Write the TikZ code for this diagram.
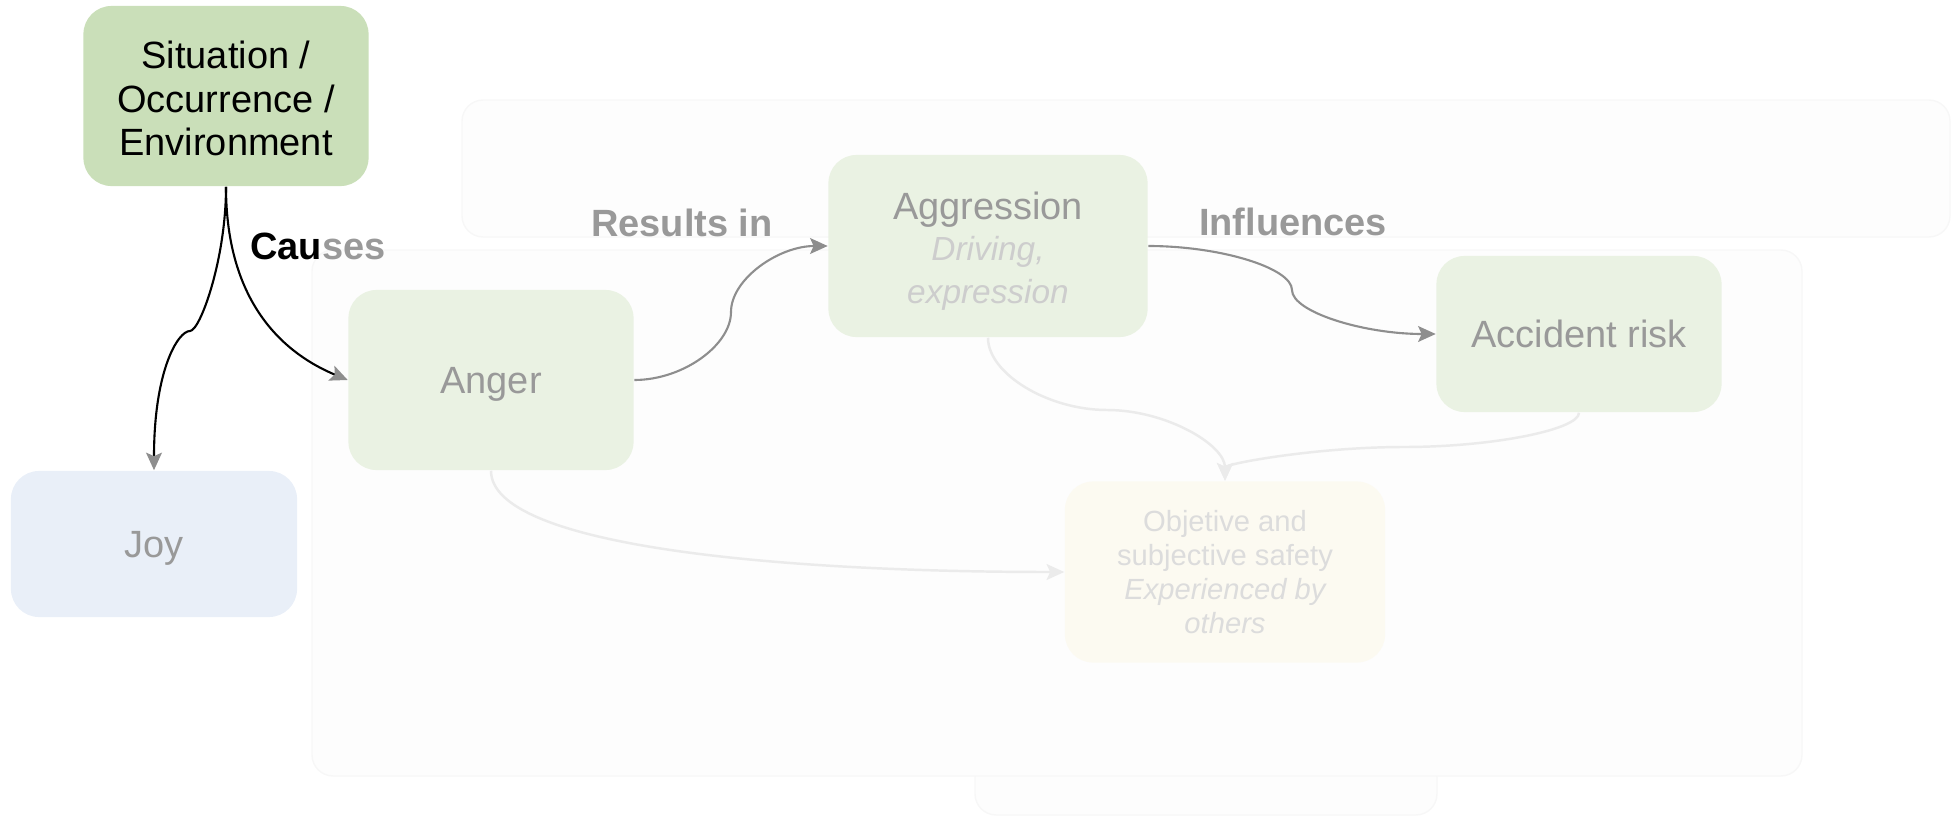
\documentclass[tikz,border=0pt]{standalone}
\usepackage{fontspec}
\setmainfont{Liberation Sans}
\usetikzlibrary{shapes,arrows,arrows.meta}

\definecolor{sitgreen}{HTML}{CADFB9}
\definecolor{palegreen}{HTML}{EAF2E3}
\definecolor{paleblue}{HTML}{E9EFF8}
\definecolor{paleyellow}{HTML}{FCFAF1}
\definecolor{textgray}{HTML}{999999}
\definecolor{softgray}{HTML}{CDCDCD}
\definecolor{fadegray}{HTML}{DCDCDC}
\definecolor{linegray}{HTML}{8E8E8E}
\definecolor{fadeline}{HTML}{EBEBEB}
\definecolor{panel}{HTML}{FDFDFD}
\definecolor{paneledge}{HTML}{F7F7F7}

\newcommand{\boxfont}{\fontsize{10.8}{12.3}\selectfont}
\newcommand{\subfont}{\fontsize{9.5}{11}\selectfont\itshape\color{softgray}}
\newcommand{\topstrut}[1]{\rule{0pt}{#1}}

\tikzstyle{block} = [rectangle, rounded corners=8pt, align=center, font=\boxfont,
    minimum width=2.85cm, minimum height=1.8cm, inner sep=2pt]
\tikzstyle{oneline} = [text height=1.0em, text depth=0.22em]
\tikzstyle{cause} = [block, fill=sitgreen, text=black]
\tikzstyle{state} = [block, fill=palegreen, text=textgray]
\tikzstyle{mood} = [block, fill=paleblue, text=textgray, minimum height=1.46cm]
\tikzstyle{effect} = [block, fill=paleyellow, text=fadegray, minimum width=3.2cm,
    font=\fontsize{8.3}{9.7}\selectfont]
\tikzstyle{edgelabel} = [font=\bfseries\boxfont, text=textgray]
\tikzstyle{panelbox} = [fill=panel, draw=paneledge, rounded corners=6pt]
\tikzstyle{causeline} = [draw=black, line width=0.6pt,
    -{Stealth[length=5pt, width=4.5pt, inset=1pt, color=linegray]}]
\tikzstyle{flow} = [draw=linegray, line width=0.6pt, ->]
\tikzstyle{faint} = [draw=fadeline, line width=0.7pt, ->]

\begin{document}
\begin{tikzpicture}[node distance = 2cm, auto, x=0.01cm, y=-0.01cm,
    >={Stealth[length=5pt, width=4.5pt, inset=1pt]}]
    \useasboundingbox (0,0) rectangle (1957,818);

    % Panels
    \draw[panelbox] (975,442) rectangle (1437,815);
    \draw[panelbox] (462,100) rectangle (1950,237);
    \draw[panelbox] (312,250) rectangle (1802,776);

    % Place nodes
    \node [cause] (sit) at (226,96) {\topstrut{9.3pt}Situation /\\Occurrence /\\Environment};
    \node [state, oneline] (anger) at (491,380) {Anger};
    \node [state, minimum width=3.19cm, minimum height=1.82cm] (aggr) at (988,246)
        {\topstrut{11pt}Aggression\\[-0.7pt]{\subfont Driving,}\\{\subfont expression}};
    \node [state, oneline, minimum height=1.56cm] (risk) at (1579,334) {Accident risk};
    \node [mood, oneline, minimum width=2.86cm] (joy) at (154,544) {Joy};
    \node [effect, minimum height=1.81cm] (safety) at (1225,572)
        {Objetive and\\subjective safety\\{\itshape Experienced by}\\{\itshape others}};

    % Labels
    \node [edgelabel] (causes) at (318,246) {\textcolor{black}{Cau}ses};
    \node [edgelabel] (results) at (682,223) {Results in};
    \node [edgelabel] (influences) at (1293,222) {Influences};

    % Draw edges
    \coordinate (kink) at (190,331);
    \coordinate (bend1) at (731,312);
    \coordinate (bend2) at (1292,290);
    \coordinate (bend3) at (1107,410);
    \coordinate (bend4) at (1404,447);
    % Situation
    \draw[causeline] (sit.south) .. controls +(0,120) and +(-60,-25) .. (anger.west);
    \draw[causeline] (sit.south) .. controls +(0,73) and +(10,0) .. (kink)
        .. controls +(-12,0) and +(0,-100) .. (joy.north);
    % Chain
    \draw[flow] (anger.east) .. controls +(49,0) and +(0,33) .. (bend1)
        .. controls +(0,-33) and +(-49,0) .. (aggr.west);
    \draw[flow] (aggr.east) .. controls +(72,0) and +(0,-22) .. (bend2)
        .. controls +(0,22) and +(-72,0) .. (risk.west);
    % Safety
    \draw[faint] (aggr.south) .. controls +(0,36) and +(-59,0) .. (bend3)
        .. controls +(59,0) and +(0,-36) .. (safety.north);
    \draw[faint] (risk.south) .. controls +(0,17) and +(88,0) .. (bend4)
        .. controls +(-88,0) and +(0,-17) .. (safety.north);
    \draw[faint] (anger.south) .. controls +(0,75) and +(-290,0) .. (safety.west);

\end{tikzpicture}
\end{document}
